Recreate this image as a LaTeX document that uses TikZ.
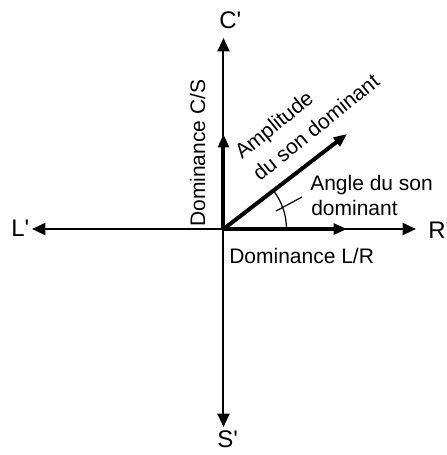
\documentclass[tikz,border=0pt]{standalone}
\usepackage{fontspec}
\setmainfont{Liberation Sans}
\usetikzlibrary{arrows.meta}
\begin{document}
\begin{tikzpicture}[x=0.75pt,y=-0.75pt,
  axisline/.style={line width=1.5pt,-{Triangle[length=10pt,width=9pt]}},
  vecline/.style={line width=3pt,-{Triangle[length=10pt,width=8pt]}},
  axislabel/.style={inner sep=0pt,anchor=base west,font=\fontsize{18}{21}\selectfont},
  txtlabel/.style={inner sep=0pt,anchor=base west,font=\fontsize{15.75}{19}\selectfont}]
\useasboundingbox (0,0) rectangle (447,455);
\coordinate (O) at (223.5,229);
\coordinate (Ct) at (223.5,38);
\coordinate (St) at (223.5,427);
\coordinate (Lt) at (32,229);
\coordinate (Rt) at (416,229);
\coordinate (Vc) at (223.5,134);
\coordinate (Vr) at (347,229);
\coordinate (Vd) at (347,134);
\coordinate (T1) at (276,211);
\coordinate (T2) at (302,197);
% axes
\draw[axisline] (O) -- (Ct);
\draw[axisline] (O) -- (St);
\draw[axisline] (O) -- (Lt);
\draw[axisline] (O) -- (Rt);
% vectors
\draw[vecline] (O) -- (Vc);
\draw[vecline] (O) -- (Vr);
\draw[vecline] (O) -- (Vd);
% angle
\draw[line width=0.9pt] ([shift={(0:63)}]O) arc[start angle=0,end angle=37.6,radius=47.25pt];
\draw[line width=0.9pt] (T1) -- (T2);
% labels
\node[axislabel] (Cl) at (219,28) {C\textquotesingle};
\node[axislabel] (Sl) at (217,447) {S\textquotesingle};
\node[axislabel] (Ll) at (11,236) {L\textquotesingle};
\node[axislabel] (Rl) at (428,238) {R\textquotesingle};
\node[txtlabel] (lr) at (229,263) {Dominance L/R};
\node[txtlabel,rotate=90] (cs) at (205,227) {Dominance C/S};
\node[txtlabel] (ang1) at (310,190) {Angle du son};
\node[txtlabel] (ang2) at (311,215) {dominant};
\node[txtlabel,rotate=39] (amp1) at (242,160) {Amplitude};
\node[txtlabel,rotate=39] (amp2) at (260,182) {du son dominant};
\end{tikzpicture}
\end{document}
